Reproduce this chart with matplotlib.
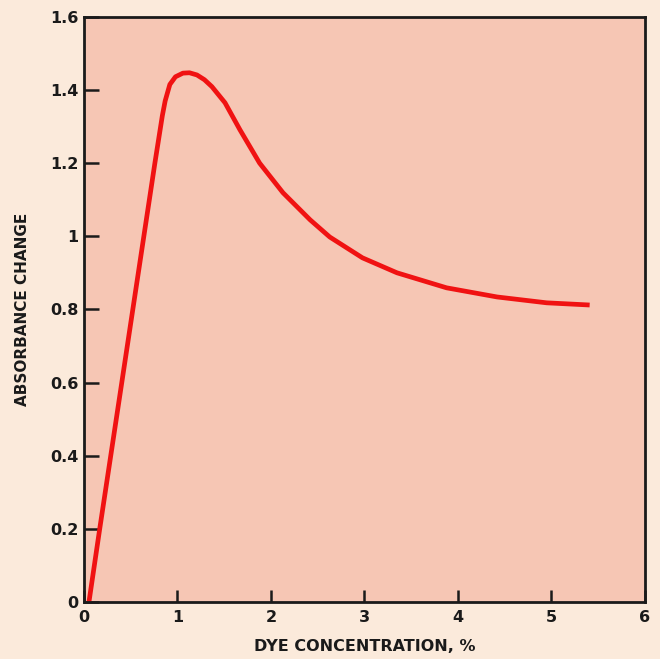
import matplotlib
matplotlib.use("Agg")
import matplotlib.pyplot as plt

# Data
conc = [0.055, 0.17, 0.76, 0.84, 0.87, 0.92, 0.98, 1.06, 1.13, 1.21, 1.29, 1.37,
        1.51, 1.67, 1.88, 2.13, 2.42, 2.63, 2.98, 3.35, 3.88, 4.42, 4.95, 5.41]
absorb = [0.0, 0.2, 1.2, 1.33, 1.37, 1.415, 1.436, 1.446, 1.447, 1.441, 1.428, 1.409,
          1.365, 1.291, 1.20, 1.119, 1.045, 0.998, 0.941, 0.90, 0.859, 0.834, 0.818, 0.812]
xticks = [0, 1, 2, 3, 4, 5, 6]
xticklabels = ["0", "1", "2", "3", "4", "5", "6"]
yticks = [0, 0.2, 0.4, 0.6, 0.8, 1.0, 1.2, 1.4, 1.6]
yticklabels = ["0", "0.2", "0.4", "0.6", "0.8", "1", "1.2", "1.4", "1.6"]

fig = plt.figure(figsize=(6.6, 6.59), dpi=100)
fig.patch.set_facecolor("#fbeadb")
ax = fig.add_axes([0.127, 0.0865, 0.85, 0.888])
ax.set_facecolor("#f6c6b4")

ax.plot(conc, absorb, color="#f01212", lw=3.4, solid_capstyle="butt", solid_joinstyle="round")

ax.set_xlim(0, 6)
ax.set_ylim(0, 1.6)
ax.set_xticks(xticks)
ax.set_xticklabels(xticklabels)
ax.set_yticks(yticks)
ax.set_yticklabels(yticklabels)
ax.tick_params(axis="both", direction="in", width=1.8, colors="#1a1a1a", labelsize=11.5)
ax.tick_params(axis="y", length=11, pad=4)
ax.tick_params(axis="x", length=9, pad=6)
for lab in ax.get_xticklabels() + ax.get_yticklabels():
    lab.set_fontweight("bold")
for s in ax.spines.values():
    s.set_linewidth(2)
    s.set_color("#1a1a1a")

ax.set_xlabel("DYE CONCENTRATION, %", fontsize=11.5, fontweight="bold", labelpad=10, color="#1a1a1a")
ax.set_ylabel("ABSORBANCE CHANGE", fontsize=11, fontweight="bold", labelpad=14, color="#1a1a1a")

fig.savefig("out.png", dpi=100, facecolor=fig.get_facecolor())
